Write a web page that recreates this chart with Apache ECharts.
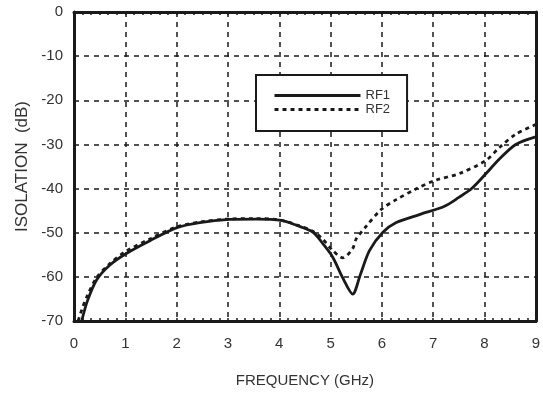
<!DOCTYPE html>
<html>
<head>
<meta charset="utf-8">
<script src="https://cdn.jsdelivr.net/npm/echarts@6/dist/echarts.min.js"></script>
<style>
  html, body { margin: 0; padding: 0; background: #fff; }
  #chart { width: 543px; height: 393px; }
</style>
</head>
<body>
<div id="chart"></div>
<script>
// Datos (frecuencia en GHz, aislamiento en dB)
var freqRF1 = [0.15, 0.26, 0.44, 0.70, 1.02, 1.48, 2.02, 2.45, 3.03, 3.55, 4.04, 4.33, 4.66, 4.85, 5.04, 5.24, 5.43, 5.58, 5.76, 6.02, 6.28, 6.73, 7.22, 7.50, 7.75, 8.03, 8.29, 8.61, 9.00];
var isoRF1  = [-70, -65.5, -60.7, -57.3, -54.7, -51.8, -48.8, -47.7, -47.0, -46.9, -47.2, -48.3, -49.9, -52.5, -55.5, -60.3, -63.9, -59.5, -54.0, -49.9, -47.7, -45.9, -44.0, -42.0, -40.0, -36.6, -33.3, -30.0, -28.3];

var freqRF2 = [0.08, 0.15, 0.25, 0.44, 0.70, 1.00, 1.50, 2.00, 2.50, 3.00, 3.50, 4.00, 4.33, 4.66, 4.85, 5.04, 5.24, 5.43, 5.50, 5.69, 5.99, 6.28, 6.68, 7.05, 7.51, 8.03, 8.29, 8.61, 9.00];
var isoRF2  = [-70, -67.5, -64.5, -60.2, -57.0, -54.3, -51.3, -48.7, -47.5, -46.9, -46.8, -47.1, -48.2, -49.7, -51.5, -54.0, -55.7, -53.6, -51.4, -48.6, -44.7, -42.5, -40.0, -38.1, -36.6, -33.6, -30.7, -27.7, -25.5];

var xTicks = [0, 1, 2, 3, 4, 5, 6, 7, 8, 9];
var yTicks = [0, -10, -20, -30, -40, -50, -60, -70];

// Se arman los pares [x, y] para cada serie
var toPairs = function (xs, ys) {
    var out = [];
    for (var i = 0; i < xs.length; i++) {
        out.push([xs[i], ys[i]]);
    }
    return out;
};

var myChart = echarts.init(document.getElementById('chart'));

var fuente = '"Liberation Sans", Arial, Helvetica, sans-serif';
var negro = '#1a1a1a';

var option = {
    backgroundColor: '#ffffff',
    animation: false,
    textStyle: { fontFamily: fuente },
    grid: { left: 74, right: 6, top: 12, bottom: 66 },
    legend: {
        left: 256,
        top: 75,
        orient: 'vertical',
        itemWidth: 86,
        itemHeight: 14,
        itemGap: 1,
        padding: [14, 17, 15, 17],
        borderColor: negro,
        borderWidth: 2,
        backgroundColor: '#ffffff',
        // sin simbolo, solo la linea
        itemStyle: { color: 'rgba(0,0,0,0)', borderColor: 'rgba(0,0,0,0)', borderWidth: 0, opacity: 0 },
        lineStyle: { width: 3 },
        textStyle: { fontFamily: fuente, fontSize: 13, color: '#333' },
        data: ['RF1', 'RF2']
    },
    xAxis: [
        {
            type: 'value',
            position: 'bottom',
            min: xTicks[0],
            max: xTicks[xTicks.length - 1],
            interval: 1,
            name: 'FREQUENCY (GHz)',
            nameLocation: 'middle',
            nameGap: 52,
            nameTextStyle: { fontFamily: fuente, fontSize: 15, color: '#333' },
            axisLine: { show: true, onZero: false, lineStyle: { color: negro, width: 3 } },
            axisTick: { show: true, inside: true, length: 3, lineStyle: { color: negro, width: 1.5 } },
            minorTick: { show: true, splitNumber: 6, length: 3, lineStyle: { color: negro, width: 1.5 } },
            axisLabel: { fontFamily: fuente, fontSize: 15, color: '#333', margin: 15 },
            splitLine: { show: true, lineStyle: { color: negro, width: 1.5, type: [5, 5] } }
        },
        {
            type: 'value',
            position: 'top',
            min: xTicks[0],
            max: xTicks[xTicks.length - 1],
            interval: 1,
            axisLine: { show: true, onZero: false, lineStyle: { color: negro, width: 3 } },
            axisTick: { show: true, inside: true, length: 3, lineStyle: { color: negro, width: 1.5 } },
            minorTick: { show: true, splitNumber: 6, length: 3, lineStyle: { color: negro, width: 1.5 } },
            axisLabel: { show: false },
            splitLine: { show: false }
        }
    ],
    yAxis: [
        {
            type: 'value',
            position: 'left',
            min: yTicks[yTicks.length - 1],
            max: yTicks[0],
            interval: 10,
            name: 'ISOLATION  (dB)',
            nameLocation: 'middle',
            nameGap: 38,
            nameTextStyle: { fontFamily: fuente, fontSize: 17, color: '#333' },
            axisLine: { show: true, onZero: false, lineStyle: { color: negro, width: 3 } },
            axisTick: { show: false },
            axisLabel: { fontFamily: fuente, fontSize: 15, color: '#333', margin: 11 },
            splitLine: { show: true, lineStyle: { color: negro, width: 1.5, type: [5, 5] } }
        },
        {
            type: 'value',
            position: 'right',
            min: yTicks[yTicks.length - 1],
            max: yTicks[0],
            interval: 10,
            axisLine: { show: true, onZero: false, lineStyle: { color: negro, width: 3 } },
            axisTick: { show: false },
            axisLabel: { show: false },
            splitLine: { show: false }
        }
    ],
    series: [
        {
            name: 'RF1',
            type: 'line',
            xAxisIndex: 0,
            yAxisIndex: 0,
            smooth: 0.3,
            symbol: 'none',
            data: toPairs(freqRF1, isoRF1),
            lineStyle: { color: negro, width: 2.8, type: 'solid' },
            itemStyle: { color: negro },
            z: 5
        },
        {
            name: 'RF2',
            type: 'line',
            xAxisIndex: 0,
            yAxisIndex: 0,
            smooth: 0.3,
            symbol: 'none',
            data: toPairs(freqRF2, isoRF2),
            lineStyle: { color: negro, width: 2.8, type: [4, 4] },
            itemStyle: { color: negro },
            z: 4
        }
    ]
};

myChart.setOption(option);
</script>
</body>
</html>
